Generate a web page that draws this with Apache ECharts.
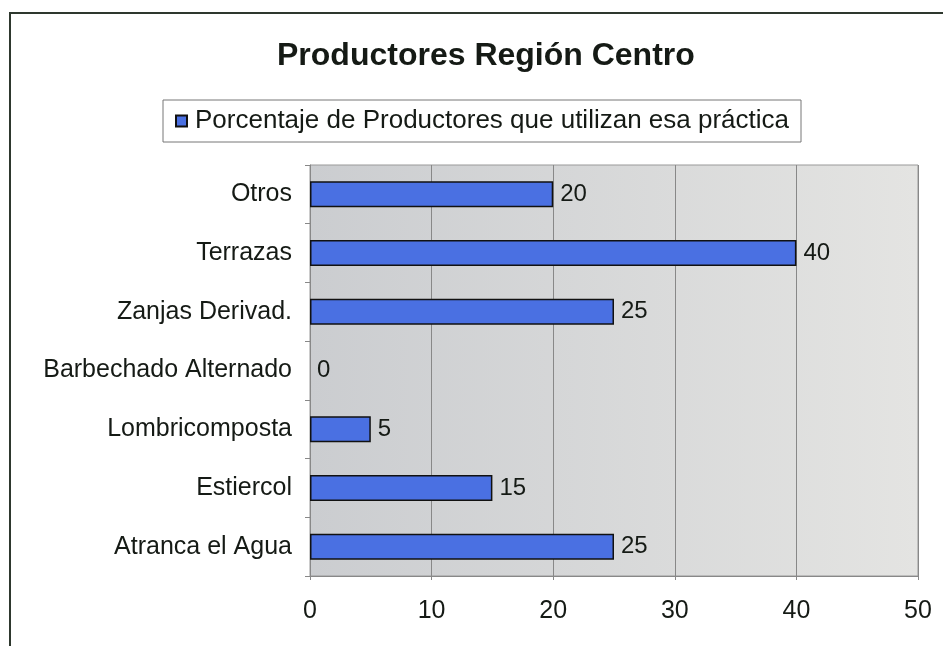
<!DOCTYPE html>
<html lang="es">
<head>
<meta charset="UTF-8">
<title>Productores Región Centro</title>
<style>
  * { margin: 0; padding: 0; }
  html, body { width: 100%; height: 100%; background: #fff; }
  #chart { width: 943px; height: 646px; }
</style>
</head>
<body>
<div id="chart"></div>
<script src="https://cdn.jsdelivr.net/npm/echarts@6/dist/echarts.min.js"></script>
<script>
  // datos (de arriba hacia abajo)
  var categorias = ['Otros', 'Terrazas', 'Zanjas Derivad.', 'Barbechado Alternado', 'Lombricomposta', 'Estiercol', 'Atranca el Agua'];
  var porcentajes = [20, 40, 25, 0, 5, 15, 25];
  var ticksX = [0, 10, 20, 30, 40, 50];
  var nombreSerie = 'Porcentaje de Productores que utilizan esa práctica';

  var fuente = '"Liberation Sans", Arial, sans-serif';
  var tinta = '#151a15';
  var myChart = echarts.init(document.getElementById('chart'));

  // barras en cero no dibujan borde
  var datosBarras = porcentajes.map(function (v) {
    return v === 0 ? { value: v, itemStyle: { borderWidth: 0 } } : v;
  });

  myChart.setOption({
    animation: false,
    backgroundColor: '#fff',
    textStyle: { fontFamily: fuente, color: tinta },
    graphic: [{
      type: 'rect',
      shape: { x: 10, y: 13, width: 1000, height: 1000 },
      style: { fill: 'none', stroke: '#2e382e', lineWidth: 2 },
      silent: true
    }],
    title: {
      text: 'Productores Región Centro',
      left: 272,
      top: 35,
      textStyle: { fontFamily: fuente, fontSize: 32, fontWeight: 'bold', color: tinta }
    },
    legend: {
      data: [nombreSerie],
      left: 163,
      top: 100,
      icon: 'rect',
      itemWidth: 11,
      itemHeight: 11,
      padding: [8, 12, 8, 12],
      borderColor: '#777',
      borderWidth: 1,
      textStyle: { fontFamily: fuente, fontSize: 26, color: tinta, padding: [0, 0, 0, 3] }
    },
    grid: {
      left: 310,
      right: 25,
      top: 165,
      bottom: 70,
      show: true,
      borderColor: '#999',
      borderWidth: 1,
      backgroundColor: {
        type: 'linear', x: 0, y: 0, x2: 1, y2: 0,
        colorStops: [
          { offset: 0, color: '#cbcdd0' },
          { offset: 1, color: '#e4e4e2' }
        ]
      }
    },
    xAxis: {
      type: 'value',
      min: ticksX[0],
      max: ticksX[ticksX.length - 1],
      interval: 10,
      axisLine: { show: true, lineStyle: { color: '#888', width: 1 } },
      axisTick: { show: true, length: 4, lineStyle: { color: '#888' } },
      splitLine: { show: true, lineStyle: { color: '#888', width: 1 } },
      axisLabel: { fontFamily: fuente, fontSize: 25, color: tinta, margin: 23 }
    },
    yAxis: {
      type: 'category',
      inverse: true,
      data: categorias,
      axisLine: { show: true, lineStyle: { color: '#888', width: 1 } },
      axisTick: { show: true, length: 5, lineStyle: { color: '#888' } },
      axisLabel: { fontFamily: fuente, fontSize: 25, color: tinta, margin: 18 }
    },
    series: [{
      name: nombreSerie,
      type: 'bar',
      data: datosBarras,
      barWidth: 26,
      itemStyle: { color: '#4a70e2', borderColor: '#111', borderWidth: 1.5 },
      label: {
        show: true,
        position: 'right',
        distance: 7,
        fontFamily: fuente,
        fontSize: 24,
        color: tinta
      }
    }]
  });
</script>
</body>
</html>
